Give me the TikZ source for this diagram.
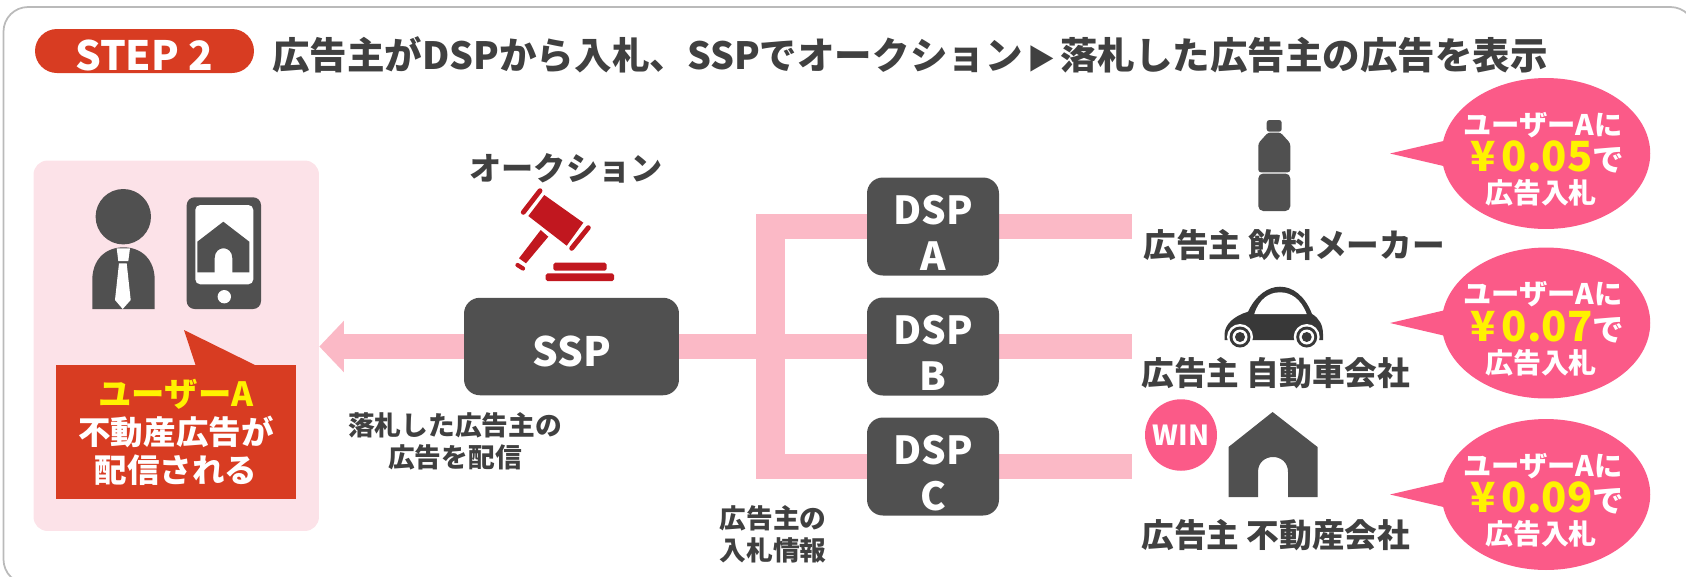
\documentclass[tikz,border=0pt]{standalone}
\usepackage{fontspec}
\setmainfont{Noto Sans CJK JP}
\usetikzlibrary{arrows.meta,backgrounds,shapes.geometric}
\definecolor{darkgray}{HTML}{505050}
\definecolor{txtgray}{HTML}{404040}
\definecolor{barpink}{HTML}{FBB9C6}
\definecolor{panelpink}{HTML}{FCE2E8}
\definecolor{bidpink}{HTML}{FB5A88}
\definecolor{stepred}{HTML}{D83C22}
\definecolor{gavelred}{HTML}{C1171F}
\tikzset{
	fs/.style={font=\fontsize{#1}{#1}\selectfont\bfseries},
	lbl/.style={fs=#1,text=txtgray,inner sep=0pt},
	lbl/.default=14,
	wlbl/.style={fs=#1,text=white,inner sep=0pt},
	ylbl/.style={fs=#1,text=yellow,inner sep=0pt},
	darkbox/.style={fill=darkgray,rounded corners=9pt,minimum width=2.64cm,minimum height=1.96cm,inner sep=0pt},
	bar/.style={barpink,line width=14.4pt},
	bidbubble/.style={ellipse,fill=bidpink,minimum width=4.17cm,minimum height=3.02cm,inner sep=0pt},
}
\begin{document}
\begin{tikzpicture}[x=0.02cm,y=-0.02cm]
		\useasboundingbox (0,0) rectangle (1686,576);
		\draw[rounded corners=14pt,black!27,line width=1pt] (3.5,7) rectangle (1695,584);
		% header
		\node[fill=stepred,rounded corners=12.5pt,minimum width=4.38cm,minimum height=0.88cm,inner sep=0pt] (stepbox) at (144.5,51) {};
		\node[wlbl=23] (steptext) at (144,55) {STEP 2};
		\node[lbl=21.35,anchor=west] (title) at (272,55) {広告主がDSPから入札、SSPでオークション\makebox[1em][c]{\fontsize{16}{16}\selectfont ▶}落札した広告主の広告を表示};
		% user panel
		\node[fill=panelpink,rounded corners=8pt,minimum width=5.71cm,minimum height=7.41cm,inner sep=0pt] (panel) at (176.25,345.75) {};
		\fill[darkgray] (123.3,216.7) circle (27.7);
		\fill[darkgray] (92.3,309) -- (92.3,280) .. controls (92.3,260) and (105,247.3) .. (123.5,247.3) .. controls (142,247.3) and (154.7,260) .. (154.7,280) -- (154.7,309) -- cycle;
		\fill[white] (116.7,248.3) -- (130,248.3) -- (128.3,261) -- (118.3,261) -- cycle;
		\fill[white] (119,263.3) -- (126.7,263.3) -- (130.7,300) -- (122.7,309) -- (115,300) -- cycle;
		\fill[darkgray,rounded corners=4.5pt] (186.7,197.3) rectangle (261,309);
		\fill[white,rounded corners=2.8pt] (195.3,205) rectangle (253.3,284.3);
		\fill[darkgray] (223.3,221.7) -- (249.3,241.7) -- (249.3,272.3) -- (232.3,272.3) -- (232.3,258) .. controls (232.3,245) and (214.7,245) .. (214.7,258) -- (214.7,272.3) -- (197.3,272.3) -- (197.3,241.7) -- cycle;
		\fill[white] (224.3,296.7) circle (6.7);
		\fill[stepred] (184,330) -- (255,365) -- (195.5,365) -- cycle;
		\node[fill=stepred,minimum width=4.8cm,minimum height=2.68cm,inner sep=0pt] (userbox) at (176,432) {};
		\node[ylbl=19] (usera) at (176,394) {ユーザーA};
		\node[wlbl=18.5] (fudosan) at (176,432) {不動産広告が};
		\node[wlbl=18.5] (haishin) at (176,470) {配信される};
		% ssp and auction
		\node[lbl=18.3] (auction) at (566,168) {オークション};
		\fill[gavelred] (544.3,195) -- (583.3,222.7) -- (566.7,245.7) -- (528.3,216) -- cycle;
		\draw[gavelred,line width=2.8pt,line cap=round] (540,190.7) -- (523.3,212.3);
		\draw[gavelred,line width=2.8pt,line cap=round] (588.3,227.7) -- (571.7,248.3);
		\fill[gavelred] (540.7,230) -- (548.3,236.7) -- (526,263.3) -- (519,258.3) -- cycle;
		\draw[gavelred,line width=2.4pt,line cap=round] (517.5,265) -- (523,268.5);
		\fill[gavelred,rounded corners=1pt] (553.3,262.7) rectangle (606.7,270.7);
		\fill[gavelred,rounded corners=1pt] (545.7,273.3) rectangle (614,281);
		\node[darkbox,minimum width=4.3cm,minimum height=1.95cm] (ssp) at (571.5,346.5) {};
		\node[wlbl=23] (ssptext) at (572,351) {SSP};
		\node[lbl=15.2] (rakusatsu) at (455,425.5) {落札した広告主の};
		\node[lbl=15.2] (haishin2) at (455,457) {広告を配信};
		% dsp boxes
		\foreach \n/\yy in {A/226.5,B/346.5,C/466.5}{
			\node[darkbox] (dsp\n) at (933,\yy) {};
			\node[wlbl=22] (dsp\n top) at (933,\yy-16.5) {DSP};
			\node[wlbl=22] (dsp\n low) at (933,\yy+29.5) {\n};
			\coordinate (end\n) at (1132,\yy);
			\coordinate (trunk\n) at (770.5,\yy);
		}
		\node[lbl=15.2] (nyusatsu1) at (773,518) {広告主の};
		\node[lbl=15.2] (nyusatsu2) at (773,550) {入札情報};
		% bars go under the boxes
		\begin{pgfonlayer}{background}
			\draw[bar,-{Triangle[length=14pt,width=28.5pt]}] (ssp.west) -- (panel.east |- ssp);
			\draw[bar,line width=16.4pt] ([yshift=7.2pt]trunkA) -- ([yshift=-7.2pt]trunkC);
			\foreach \n in {A,B,C}{
				\draw[bar] (trunk\n) -- (dsp\n.west);
				\draw[bar] (dsp\n.east) -- (end\n);
			}
			\draw[bar] (ssp.east) -- (trunkB);
		\end{pgfonlayer}
		% advertisers
		\fill[darkgray,rounded corners=1.5pt] (1266.7,120) rectangle (1281.7,131.7);
		\fill[darkgray,rounded corners=1.5pt] (1268,132.5) -- (1280.5,132.5) -- (1290.3,143.3) -- (1290.3,172.3) -- (1258.3,172.3) -- (1258.3,143.3) -- cycle;
		\fill[darkgray,rounded corners=2.8pt] (1258.3,173.5) rectangle (1290.3,211);
		\node[lbl=18.6,anchor=west] (ad1) at (1143,245) {広告主 飲料メーカー};
		\fill[black!78] (1224.5,334) .. controls (1225,324) and (1234,316) .. (1248,311.7) .. controls (1256,295) and (1268,286.7) .. (1280,286.7) .. controls (1293,286.7) and (1305,296) .. (1312,314) .. controls (1319,318) and (1323,325) .. (1323,334) -- (1323,340) -- (1224.5,340) -- cycle;
		\fill[white] (1254.3,314) .. controls (1259,299) and (1269,292.3) .. (1280,292.3) .. controls (1291,292.3) and (1301,299) .. (1306.7,314) -- cycle;
		\foreach \xx in {1240,1306.7}{
			\fill[white] (\xx,337) circle (13);
			\fill[black!78] (\xx,337) circle (10.5);
			\fill[white] (\xx,337) circle (7.5);
			\fill[black!78] (\xx,337) circle (5);
		}
		\node[lbl=18.6,anchor=west] (ad2) at (1141,373) {広告主 自動車会社};
		\node[ellipse,fill=bidpink,minimum width=1.44cm,minimum height=1.43cm,inner sep=0pt] (win) at (1181,435) {};
		\node[wlbl=15.7] (wintext) at (1181,435) {WIN};
		\fill[darkgray] (1272.6,412) -- (1317.5,447) -- (1317.5,497) -- (1288,497) -- (1288,472) .. controls (1288,452) and (1258,452) .. (1258,472) -- (1258,497) -- (1228.5,497) -- (1228.5,447) -- cycle;
		\node[lbl=18.6,anchor=west] (ad3) at (1141,535) {広告主 不動産会社};
		% bids
		\foreach \n/\yy/\price in {a/153.5/0.05,b/323/0.07,c/494.5/0.09}{
			\fill[bidpink] (1390,\yy) -- (1450,\yy-14) -- (1450,\yy+14) -- cycle;
			\node[bidbubble] (bid\n) at (1546,\yy) {};
			\node[wlbl=16.1] (bid\n 1) at (1543,\yy-28.5) {ユーザーAに};
			\node[wlbl=18,anchor=west] (bid\n 2) at (1470,\yy+3.5) {\textcolor{yellow}{\fontsize{23.7}{23.7}\selectfont ¥\hspace{3.5pt}\price}で};
			\node[wlbl=15.9] (bid\n 3) at (1541,\yy+39.5) {広告入札};
		}
		\end{tikzpicture}
\end{document}
